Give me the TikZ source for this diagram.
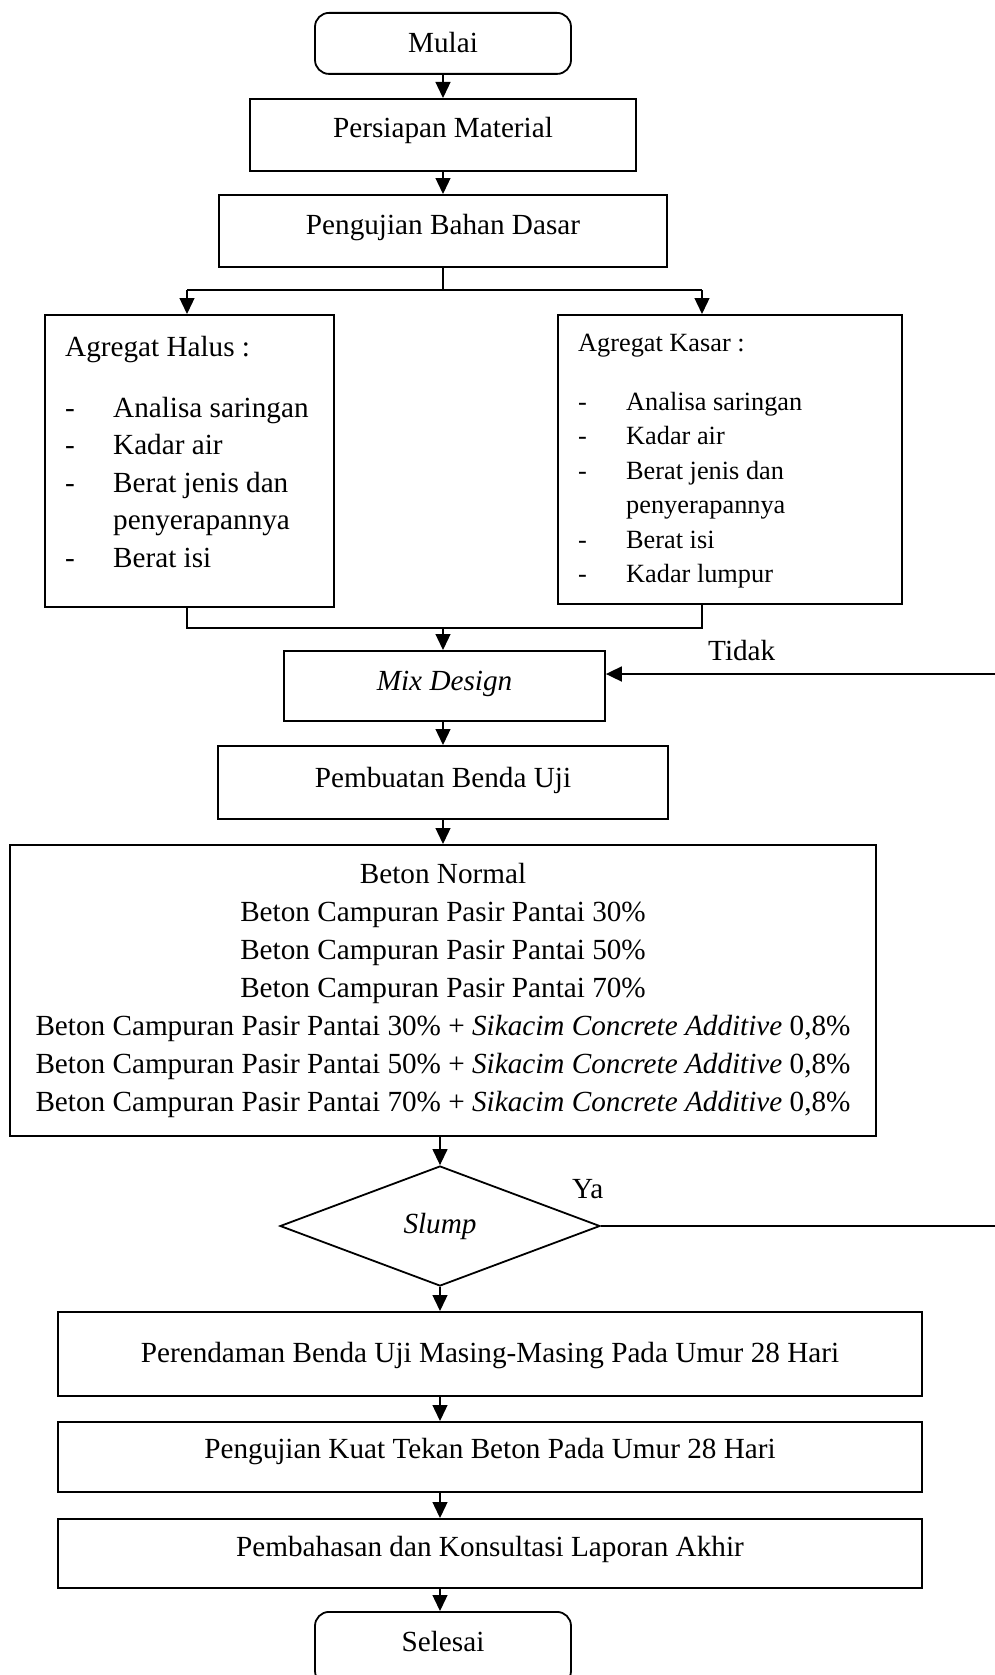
\documentclass[tikz,border=0pt]{standalone}
\usepackage{fontspec}
\setmainfont{Liberation Serif}
\usetikzlibrary{arrows.meta,shapes.geometric}
\tikzset{
  bx/.style={draw, line width=1.8pt, inner sep=0pt},
  rbx/.style={bx, rounded corners=14pt},
  tb/.style 2 args={text height=#1pt, text depth=#2pt},
  txt/.style={inner sep=0pt, anchor=base west},
  ln/.style={line width=1.1pt},
  arr/.style={line width=1.3pt, -{Triangle[length=16pt,width=15pt]}},
  bigf/.style={font=\fontsize{29.2pt}{35pt}\selectfont},
  smallf/.style={font=\fontsize{26.3pt}{32pt}\selectfont}
}
\begin{document}
\begin{tikzpicture}[x=1pt, y=-1pt, bigf]
\useasboundingbox (0,0) rectangle (995,1675);

% main column
\node[rbx, minimum width=256pt, tb={40}{21}, anchor=north] (mulai) at (443,12) {Mulai};
\node[bx, minimum width=386pt, tb={39}{33}, anchor=north] (persiapan) at (443,98) {Persiapan Material};
\node[bx, minimum width=448pt, tb={40}{32}, anchor=north] (pengujian) at (443,194) {Pengujian Bahan Dasar};

% aggregate boxes
\node[bx, minimum width=289pt, minimum height=292pt, anchor=north west] (halus) at (44,314) {};
\node[txt] (h0) at (65,356) {Agregat Halus :};
\node[txt] (h1) at (65,417) {\makebox[48pt][l]{-}Analisa saringan};
\node[txt] (h2) at (65,454.5) {\makebox[48pt][l]{-}Kadar air};
\node[txt] (h3) at (65,492) {\makebox[48pt][l]{-}Berat jenis dan};
\node[txt] (h4) at (113,529.5) {penyerapannya};
\node[txt] (h5) at (65,567) {\makebox[48pt][l]{-}Berat isi};

\node[bx, minimum width=344pt, minimum height=289pt, anchor=north west] (kasar) at (557,314) {};
\begin{scope}[smallf]
\node[txt] (k0) at (578,351) {Agregat Kasar :};
\node[txt] (k1) at (578,410) {\makebox[48pt][l]{-}Analisa saringan};
\node[txt] (k2) at (578,444.5) {\makebox[48pt][l]{-}Kadar air};
\node[txt] (k3) at (578,479) {\makebox[48pt][l]{-}Berat jenis dan};
\node[txt] (k4) at (626,513.5) {penyerapannya};
\node[txt] (k5) at (578,548) {\makebox[48pt][l]{-}Berat isi};
\node[txt] (k6) at (578,582.5) {\makebox[48pt][l]{-}Kadar lumpur};
\end{scope}

\node[bx, minimum width=321pt, tb={40}{30}, anchor=north] (mix) at (444.5,650) {\textit{Mix Design}};
\node[bx, minimum width=450pt, tb={41.5}{31.5}, anchor=north] (pembuatan) at (443,745) {Pembuatan Benda Uji};

\node[bx, minimum width=866pt, minimum height=291pt, align=center, anchor=north,
      font=\fontsize{29.2pt}{38pt}\selectfont] (beton) at (443,844) {Beton Normal\\
Beton Campuran Pasir Pantai 30\%\\
Beton Campuran Pasir Pantai 50\%\\
Beton Campuran Pasir Pantai 70\%\\
Beton Campuran Pasir Pantai 30\% + \textit{Sikacim Concrete Additive} 0,8\%\\
Beton Campuran Pasir Pantai 50\% + \textit{Sikacim Concrete Additive} 0,8\%\\
Beton Campuran Pasir Pantai 70\% + \textit{Sikacim Concrete Additive} 0,8\%};

\node[bx, diamond, minimum width=320pt, minimum height=120pt] (slump) at (440,1226) {\textit{Slump}};

\node[bx, minimum width=864pt, tb={50.5}{33.5}, anchor=north] (rendam) at (490,1311) {Perendaman Benda Uji Masing-Masing Pada Umur 28 Hari};
\node[bx, minimum width=864pt, tb={37}{33}, anchor=north] (kuat) at (490,1421) {Pengujian Kuat Tekan Beton Pada Umur 28 Hari};
\node[bx, minimum width=864pt, tb={38}{31}, anchor=north] (bahas) at (490,1518) {Pembahasan dan Konsultasi Laporan Akhir};
\node[rbx, minimum width=256pt, tb={40}{33}, anchor=north] (selesai) at (443,1611) {Selesai};

% labels
\node[txt] (tidak) at (708,660) {Tidak};
\node[txt] (ya) at (572,1198) {Ya};

% coordinates
\coordinate (sL) at (187,290);
\coordinate (sR) at (702,290);
\coordinate (mL) at (187,628);
\coordinate (mR) at (702,628);
\coordinate (tR) at (995,674);
\coordinate (yR) at (995,1226);

% connectors
\draw[arr] (mulai.south) -- (persiapan.north);
\draw[arr] (persiapan.south) -- (pengujian.north);
\draw[ln] (pengujian.south) -- (pengujian.south |- sL);
\draw[ln] (sL) -- (sR);
\draw[arr] (sL) -- (sL |- halus.north);
\draw[arr] (sR) -- (sR |- kasar.north);
\draw[ln] (mL |- halus.south) -- (mL) -- (mR) -- (mR |- kasar.south);
\draw[arr] (pengujian.south |- mL) -- (pengujian.south |- mix.north);
\draw[arr, line width=1.8pt] (tR) -- (mix.east |- tR);
\draw[arr] (pembuatan.north |- mix.south) -- (pembuatan.north);
\draw[arr] (pembuatan.south) -- (beton.north);
\draw[arr] (slump.north |- beton.south) -- (slump.north);
\draw[ln] (slump.east) -- (yR);
\draw[arr] (slump.south) -- (slump.south |- rendam.north);
\draw[arr] (slump.south |- rendam.south) -- (slump.south |- kuat.north);
\draw[arr] (slump.south |- kuat.south) -- (slump.south |- bahas.north);
\draw[arr] (slump.south |- bahas.south) -- (slump.south |- selesai.north);
\end{tikzpicture}
\end{document}
